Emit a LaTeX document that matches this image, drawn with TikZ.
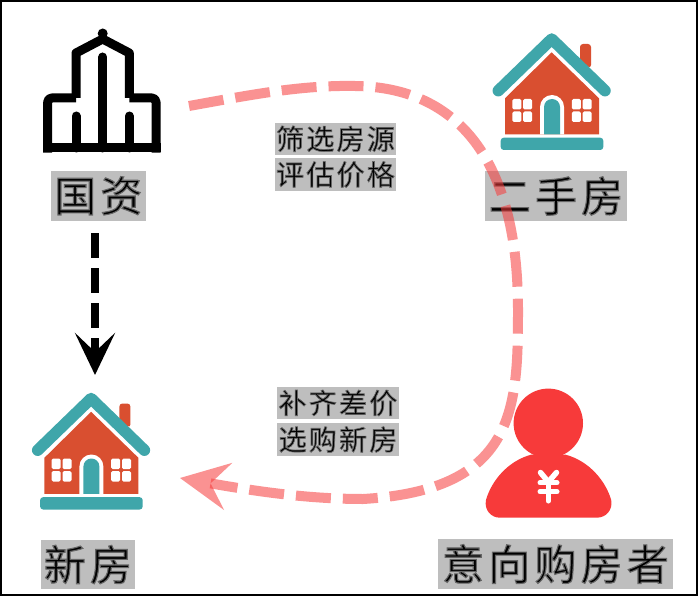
\documentclass[tikz,border=0pt]{standalone}
\usepackage{fontspec}
\usetikzlibrary{arrows.meta}
\newfontfamily\cjkbig[LetterSpace=10]{Noto Sans CJK SC}
\newfontfamily\cjksmall[LetterSpace=8]{Noto Sans CJK SC}
\definecolor{teal1}{HTML}{3FA6AA}
\definecolor{brick}{HTML}{D94F30}
\definecolor{lblgrey}{HTML}{BEBEBE}
\definecolor{pred}{HTML}{F73A3A}
\newcommand{\shtxt}[2]{\special{pdf:code q 2 Tr #2 w 0.4 G}#1\special{pdf:code Q}}
\newcommand{\hicon}{%
  \fill[brick,rounded corners=3] (580,63) -- (580,44) -- (591,44) -- (591,68) -- cycle;
  \fill[brick] (505,134.3) -- (505,98.3) -- (551.7,52.3) -- (599,98.3) -- (599,134.3) -- cycle;
  \draw[white,line width=2.5] (575,60) -- (596,81);
  \draw[teal1,line width=11.5,line cap=round,line join=round] (498.3,90.7) -- (551.7,39) -- (605,90.7);
  \fill[white] (540,134.3) -- (540,107) arc[start angle=180,end angle=360,radius=12] -- (564,134.3) -- cycle;
  \fill[teal1] (544,134.3) -- (544,107) arc[start angle=180,end angle=360,radius=8] -- (560,134.3) -- cycle;
  \foreach \wx in {512.3,571.8}{
    \fill[white,rounded corners=1.5] (\wx,99) rectangle ++(9,10.5);
    \fill[white,rounded corners=1.5] (\wx+10.8,99) rectangle ++(9,10.5);
    \fill[white,rounded corners=1.5] (\wx,111.5) rectangle ++(9,10.5);
    \fill[white,rounded corners=1.5] (\wx+10.8,111.5) rectangle ++(9,10.5);
  }
  \fill[teal1,rounded corners=3] (500.7,137.7) rectangle (603.3,150);
}
\tikzset{
  biglbl/.style={fill=lblgrey,inner sep=0pt,minimum height=49.5,font=\cjkbig\fontsize{42}{42}\selectfont,text=black},
  smalllbl/.style={fill=lblgrey,inner sep=0pt,minimum height=32.5,minimum width=121.5,font=\cjksmall\fontsize{28}{28}\selectfont,text=black},
  bldg/.style={line width=9,black},
  pinkdash/.style={draw=pred,draw opacity=.55,fill opacity=.55,line width=10,dash pattern=on 35 off 12},
}
\begin{document}
\begin{tikzpicture}[x=1pt,y=-1pt]
\useasboundingbox (0,0) rectangle (698,596);
\fill[white] (0,0) rectangle (698,596);
\draw[black,line width=2] (1,1) rectangle (697,595);

% building
\draw[bldg,line join=round,rounded corners=4] (47.7,152.7) -- (47.7,98) -- (76,98);
\draw[bldg,line join=round,rounded corners=4] (156,152.7) -- (156,98) -- (129.3,98);
\draw[bldg,line join=round] (76,98) -- (76,53) -- (102.7,39) -- (129.3,53) -- (129.3,98);
\draw[bldg] (43.2,148) -- (160.5,148);
\draw[bldg,line cap=round] (102.7,148) -- (102.7,57);
\draw[bldg,line cap=round] (76,148) -- (76,116);
\draw[bldg,line cap=round] (129.3,148) -- (129.3,116);
\fill[black] (102.7,33.5) circle[radius=5];

% houses
\hicon
\begin{scope}[shift={(-460.6,359.5)}]\hicon\end{scope}

% person
\fill[pred] (548.3,423.3) circle[radius=34.7];
\fill[pred] (531.7,454.5) -- (565,454.5)
  .. controls (590,461) and (606,482) .. (611.2,500)
  .. controls (613,510) and (606,517.7) .. (596.7,517.7)
  -- (500,517.7)
  .. controls (491,517.7) and (484,510) .. (486,500)
  .. controls (491,482) and (507,461) .. (531.7,454.5) -- cycle;
\draw[white,line width=5.5,line cap=round,line join=round] (540.5,472.5) -- (548.3,482) -- (556.5,472.5);
\draw[white,line width=5,line cap=round] (540,482.7) -- (557,482.7) (540,491.7) -- (557,491.7) (548.3,482) -- (548.3,501);

% labels
\node[biglbl,minimum width=95] (guozi) at (98.3,195.8) {\shtxt{国资}{1.1}};
\node[biglbl,minimum width=142] (ershou) at (556,196) {\shtxt{二手房}{1.1}};
\node[biglbl,minimum width=94] (xinfang) at (88,564.5) {\shtxt{新房}{1.1}};
\node[biglbl,minimum width=235] (buyer) at (555.5,564) {\shtxt{意向购房者}{1.1}};
\node[smalllbl] (l1) at (335.5,138.8) {\shtxt{筛选房源}{.7}};
\node[smalllbl] (l2) at (335.5,174.5) {\shtxt{评估价格}{.7}};
\node[smalllbl] (l3) at (338,403) {\shtxt{补齐差价}{.7}};
\node[smalllbl] (l4) at (338,439.5) {\shtxt{选购新房}{.7}};

% connectors
\coordinate (gzout) at (189,106);
\coordinate (w1) at (355,86);
\coordinate (w2) at (518,310);
\coordinate (w3) at (363,499);
\coordinate (nhin) at (180,478);
\coordinate (gzdown) at (95,233);
\coordinate (nhtop) at (95,375);
\draw[line width=8,black,dash pattern=on 25 off 10,-{Stealth[length=42,width=40,inset=19]}] (gzdown) -- (nhtop);
\draw[pinkdash,-{Stealth[length=49,width=48,inset=18,line width=0pt]}]
  (gzout) .. controls (250,95) and (300,85) .. (w1)
  .. controls (450,87) and (518,150) .. (w2)
  .. controls (518,410) and (515,490) .. (w3)
  .. controls (310,499) and (260,492) .. (nhin);
\end{tikzpicture}
\end{document}
